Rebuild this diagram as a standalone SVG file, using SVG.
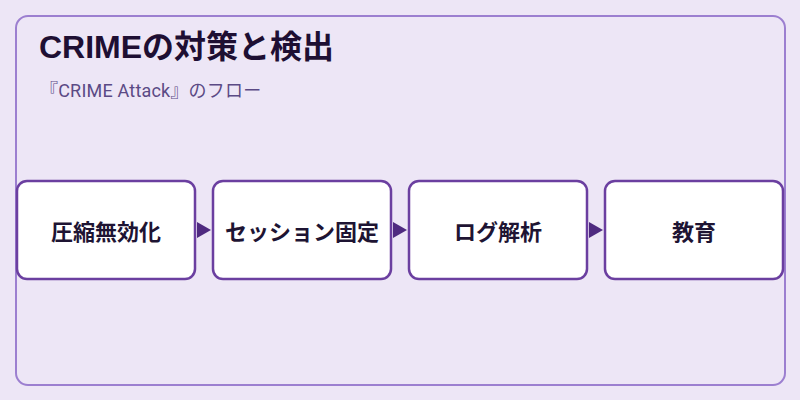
<svg xmlns="http://www.w3.org/2000/svg" width="800" height="400" viewBox="0 0 800 400">
<style>
.frame{fill:#ede6f6;stroke:#9c7fd0;stroke-width:2}
.node rect{fill:#ffffff;stroke:#6b3fa0;stroke-width:2.5}
.node text{font-family:"Noto Sans CJK JP","Noto Sans",sans-serif;font-size:22px;font-weight:700;fill:#1e1433;text-anchor:middle;dominant-baseline:central}
.arrow{fill:#4f2a80}
.title{font-family:"Liberation Sans","Noto Sans CJK JP",sans-serif;font-size:32px;font-weight:700;fill:#1e0f33}
.sub{font-family:"Roboto","Noto Sans CJK JP",sans-serif;font-size:18px;letter-spacing:0.2px;fill:#5b4a85}
</style>
<rect width="800" height="400" fill="#ede6f6"/>
<rect class="frame" x="16" y="16" width="769" height="369" rx="12"/>
<text class="title" x="39" y="58">CRIMEの対策と検出</text>
<text class="sub" x="40" y="97">『CRIME Attack』のフロー</text>
<g id="connectors">
<path class="arrow" d="M197 222 L211 230 L197 238 Z"/>
<path class="arrow" d="M393 222 L407 230 L393 238 Z"/>
<path class="arrow" d="M589 222 L603 230 L589 238 Z"/>
</g>
<g id="node1" class="node"><rect x="17" y="181" width="178" height="98" rx="10"/><text x="106" y="230">圧縮無効化</text></g>
<g id="node2" class="node"><rect x="213" y="181" width="178" height="98" rx="10"/><text x="302" y="230">セッション固定</text></g>
<g id="node3" class="node"><rect x="409" y="181" width="178" height="98" rx="10"/><text x="498" y="230">ログ解析</text></g>
<g id="node4" class="node"><rect x="605" y="181" width="178" height="98" rx="10"/><text x="694" y="230">教育</text></g>
</svg>
